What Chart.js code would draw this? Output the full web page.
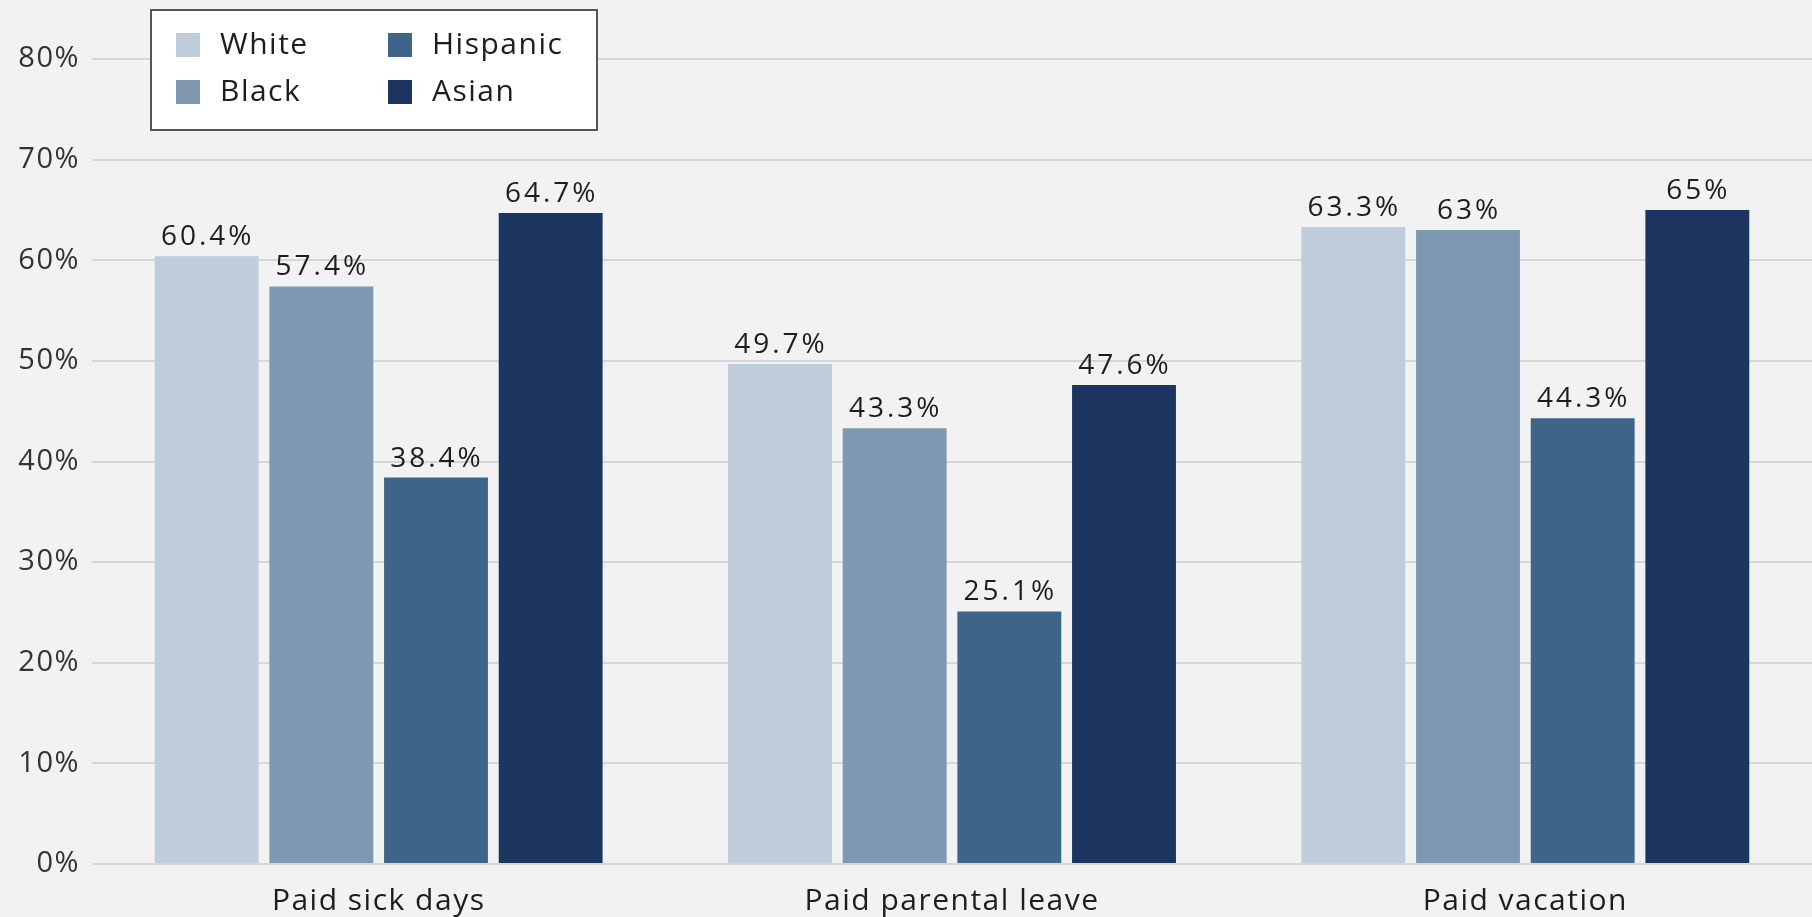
<!DOCTYPE html>
<html>
<head>
<meta charset="utf-8">
<script src="https://cdn.jsdelivr.net/npm/chart.js@4.4.0/dist/chart.umd.min.js"></script>
<style>
  html, body { margin: 0; padding: 0; background: #f2f2f2; }
  #wrap { width: 1812px; height: 917px; }
</style>
</head>
<body>
<div id="wrap"><canvas id="benefits-chart"></canvas></div>
<script>
const CATEGORIAS = ["Paid sick days", "Paid parental leave", "Paid vacation"];
const GRUPOS = ["White", "Black", "Hispanic", "Asian"];
const COLORES = ["#bfcddb", "#7e98b2", "#3e648a", "#1c3460"];
const WHITE = [60.4, 49.7, 63.3];
const BLACK = [57.4, 43.3, 63];
const HISPANIC = [38.4, 25.1, 44.3];
const ASIAN = [64.7, 47.6, 65];
const Y_TICKS = [0, 10, 20, 30, 40, 50, 60, 70, 80];

const FUENTE = "'Open Sans', 'Noto Sans', sans-serif";
const TEXTO = "#1f1c1d";

// wider text, like the original
const spacing = {
    id: "spacing",
    beforeDraw(chart) {
        chart.ctx.letterSpacing = "1.5px";
    }
};

// labels over every bar
const valueLabels = {
    id: "valueLabels",
    afterDatasetsDraw(chart) {
        let ctx = chart.ctx;
        ctx.save();
        ctx.letterSpacing = "3px";
        ctx.font = "28px " + FUENTE;
        ctx.fillStyle = TEXTO;
        ctx.textAlign = "center";
        ctx.textBaseline = "bottom";
        chart.data.datasets.forEach((ds, i) => {
            chart.getDatasetMeta(i).data.forEach((bar, j) => {
                ctx.fillText(ds.data[j] + "%", bar.x + 1, bar.y - 5);
            });
        });
        ctx.restore();
    }
};

// boxed legend, two columns
const boxLegend = {
    id: "boxLegend",
    afterDraw(chart) {
        let ctx = chart.ctx;
        ctx.save();
        ctx.fillStyle = "#ffffff";
        ctx.fillRect(151, 10, 446, 120);
        ctx.strokeStyle = "#555555";
        ctx.lineWidth = 2;
        ctx.strokeRect(151, 10, 446, 120);
        ctx.letterSpacing = "1.5px";
        ctx.font = "30px " + FUENTE;
        ctx.textBaseline = "middle";
        ctx.textAlign = "left";
        chart.data.datasets.forEach((ds, i) => {
            let col = Math.floor(i / 2);
            let fila = i % 2;
            let x = 176 + col * 212;
            let y = 45 + fila * 47;
            ctx.fillStyle = ds.backgroundColor;
            ctx.fillRect(x, y - 12, 24, 24);
            ctx.fillStyle = TEXTO;
            ctx.fillText(ds.label, x + 44, y);
        });
        ctx.restore();
    }
};

const SERIES = [WHITE, BLACK, HISPANIC, ASIAN];

var ctx1 = document.getElementById("benefits-chart").getContext("2d");
var myChart1 = new Chart(ctx1, {
    type: "bar",
    data: {
        labels: CATEGORIAS,
        datasets: GRUPOS.map((g, i) => ({
            label: g,
            data: SERIES[i],
            backgroundColor: COLORES[i],
            barPercentage: 0.906,
            categoryPercentage: 0.8
        }))
    },
    options: {
        responsive: true,
        maintainAspectRatio: false,
        animation: false,
        layout: { padding: { top: 59, right: 0, bottom: 0, left: 0 } },
        plugins: {
            legend: { display: false },
            tooltip: { enabled: false }
        },
        scales: {
            y: {
                min: 0,
                max: 80,
                afterFit: (s) => { s.width = 92 },
                afterBuildTicks: (s) => { s.ticks = Y_TICKS.map(v => ({ value: v })) },
                border: { display: false },
                grid: { color: "#d6d6d6", lineWidth: 2, drawTicks: false },
                ticks: {
                    color: "#333333",
                    padding: 12,
                    font: { family: FUENTE, size: 29 },
                    callback: (v) => v + "%"
                }
            },
            x: {
                afterFit: (s) => { s.height = 53 },
                border: { display: false },
                grid: { display: false },
                ticks: {
                    color: TEXTO,
                    padding: 11,
                    font: { family: FUENTE, size: 30 }
                }
            }
        }
    },
    plugins: [spacing, valueLabels, boxLegend]
});
</script>
</body>
</html>
